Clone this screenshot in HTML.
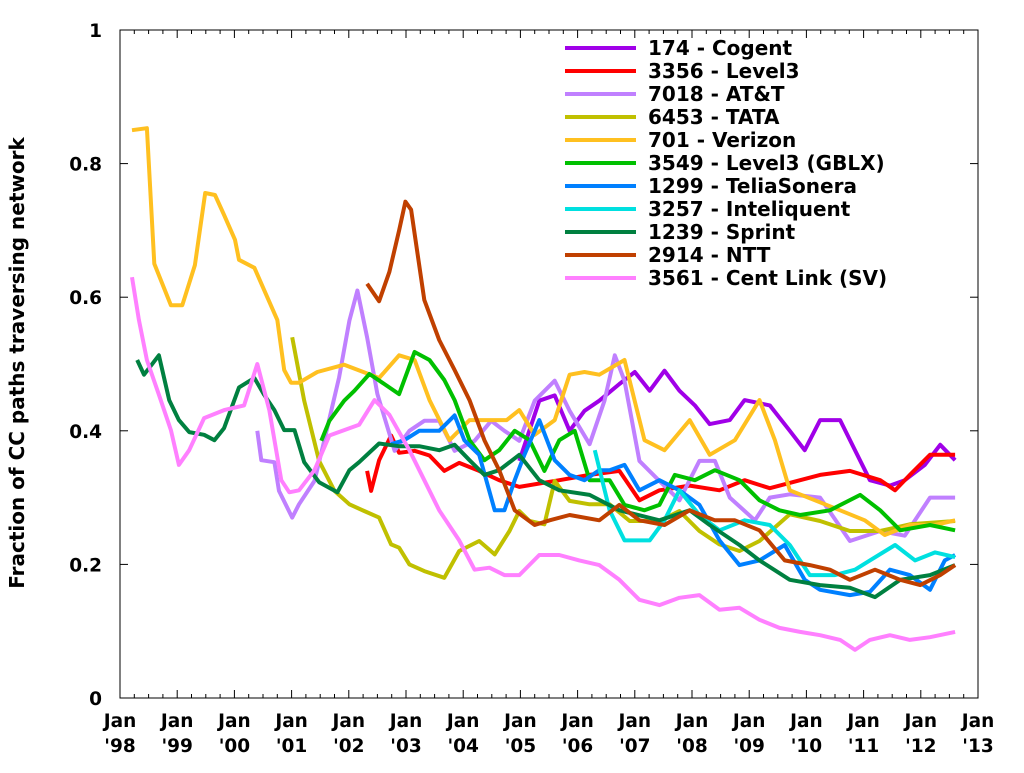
<!DOCTYPE html>
<html><head><meta charset="utf-8"><style>
body{margin:0;background:#fff;}
svg text{font-family:"DejaVu Sans","Liberation Sans",sans-serif;font-weight:bold;font-size:18.5px;fill:#000;}
svg text.lg{font-size:20px;}
</style></head><body>
<svg id="chart" width="1024" height="768" xmlns="http://www.w3.org/2000/svg">
<g id="grid"></g><g id="series"></g><g id="axes"></g><g id="legend"></g>
</svg>
<script>
// x values are years since Jan 1998; y values are fractions
const seriesNames = ["174 - Cogent","3356 - Level3","7018 - AT&T","6453 - TATA","701 - Verizon","3549 - Level3 (GBLX)","1299 - TeliaSonera","3257 - Inteliquent","1239 - Sprint","2914 - NTT","3561 - Cent Link (SV)"];
const seriesColors = ["#a000e8","#ff0000","#c080ff","#c0c000","#ffc020","#00c000","#0080ff","#00e0e0","#008040","#c04000","#ff80ff"];
const xTickLabels = ["'98","'99","'00","'01","'02","'03","'04","'05","'06","'07","'08","'09","'10","'11","'12","'13"];
const yTicks = [0,0.2,0.4,0.6,0.8,1];
const yTickLabels = ["0","0.2","0.4","0.6","0.8","1"];

const cogentX=[6.98,7.33,7.60,7.86,8.12,8.38,8.73,9.00,9.26,9.52,9.78,10.05,10.31,10.66,10.92,11.36,11.71,11.97,12.24,12.59,12.85,13.11,13.46,13.72,14.07,14.34,14.60];
const cogentY=[.355,.445,.453,.40,.43,.445,.47,.488,.46,.49,.46,.438,.41,.416,.446,.438,.40,.371,.416,.416,.371,.326,.318,.326,.349,.379,.356];
const level3X=[4.32,4.39,4.53,4.74,4.88,5.15,5.41,5.67,5.93,6.28,6.63,6.98,7.68,8.21,8.73,9.08,9.43,9.96,10.48,10.92,11.36,11.89,12.24,12.76,13.29,13.55,13.81,14.16,14.60];
const level3Y=[.34,.31,.356,.393,.367,.37,.363,.34,.352,.34,.326,.316,.326,.334,.34,.296,.311,.318,.311,.326,.314,.326,.334,.34,.326,.311,.334,.364,.364];
const attX=[2.40,2.47,2.70,2.78,3.01,3.13,3.40,3.57,3.83,4.01,4.15,4.32,4.50,4.80,5.06,5.32,5.58,5.85,6.20,6.49,6.72,6.98,7.25,7.60,7.86,8.21,8.47,8.65,8.82,9.08,9.43,9.78,10.13,10.40,10.66,11.10,11.36,11.71,12.24,12.76,13.29,13.72,14.16,14.60];
const attY=[.40,.356,.353,.31,.27,.29,.325,.385,.48,.565,.61,.54,.455,.37,.40,.415,.415,.37,.385,.415,.40,.385,.445,.475,.43,.38,.445,.513,.475,.355,.325,.296,.355,.355,.30,.266,.30,.305,.30,.235,.25,.243,.30,.30];
const tataX=[3.01,3.22,3.48,3.75,4.01,4.27,4.53,4.74,4.88,5.06,5.32,5.67,5.93,6.28,6.55,6.81,6.98,7.16,7.42,7.60,7.86,8.21,8.56,8.91,9.43,9.78,10.13,10.48,10.83,11.18,11.71,12.24,12.76,13.29,13.81,14.60];
const tataY=[.54,.445,.355,.31,.29,.28,.27,.23,.225,.2,.19,.18,.22,.235,.215,.25,.28,.265,.26,.325,.295,.29,.29,.265,.265,.28,.25,.23,.22,.235,.275,.265,.25,.25,.26,.265];
const verizonX=[0.21,0.47,0.60,0.89,1.09,1.31,1.49,1.66,1.82,2.01,2.08,2.35,2.52,2.75,2.87,2.99,3.13,3.45,3.92,4.53,4.88,5.15,5.41,5.76,6.11,6.46,6.76,6.98,7.25,7.60,7.86,8.12,8.38,8.82,9.17,9.52,9.96,10.31,10.75,11.18,11.45,11.71,12.15,12.59,13.02,13.37,13.81,14.25,14.60];
const verizonY=[.85,.853,.65,.588,.588,.648,.756,.753,.723,.686,.656,.644,.611,.566,.491,.472,.472,.488,.499,.479,.513,.506,.446,.386,.416,.416,.416,.431,.394,.416,.484,.488,.484,.506,.386,.371,.416,.364,.386,.446,.386,.311,.296,.281,.266,.244,.259,.259,.266];
const gblxX=[3.52,3.66,3.92,4.10,4.36,4.62,4.88,5.15,5.41,5.67,5.85,6.11,6.37,6.63,6.90,7.16,7.42,7.68,7.95,8.21,8.56,8.82,9.17,9.43,9.70,10.05,10.40,10.83,11.18,11.53,11.89,12.41,12.94,13.29,13.64,14.16,14.60];
const gblxY=[.385,.415,.445,.46,.485,.47,.455,.518,.506,.476,.446,.386,.356,.371,.40,.386,.34,.386,.40,.326,.326,.289,.281,.289,.334,.326,.341,.326,.296,.281,.274,.281,.304,.281,.251,.259,.251];
const teliaX=[4.74,4.97,5.23,5.58,5.85,6.02,6.28,6.55,6.72,6.90,7.07,7.33,7.60,7.86,8.12,8.38,8.56,8.82,9.08,9.43,9.78,10.13,10.48,10.83,11.18,11.62,11.97,12.24,12.76,13.11,13.46,13.81,14.16,14.42,14.60];
const teliaY=[.38,.386,.40,.40,.423,.386,.364,.281,.281,.326,.364,.416,.356,.334,.326,.341,.341,.349,.311,.326,.311,.289,.236,.199,.206,.229,.177,.162,.154,.159,.192,.184,.162,.206,.214];
const inteliX=[8.30,8.56,8.82,9.26,9.52,9.78,10.13,10.48,10.92,11.36,11.71,12.06,12.50,12.85,13.11,13.55,13.90,14.25,14.60];
const inteliY=[.371,.281,.236,.236,.266,.311,.274,.251,.266,.259,.229,.184,.184,.192,.206,.229,.206,.218,.211];
const sprintX=[0.30,0.42,0.68,0.86,1.03,1.21,1.47,1.65,1.82,2.08,2.35,2.52,2.70,2.87,3.05,3.22,3.48,3.80,4.01,4.18,4.53,4.88,5.23,5.58,5.85,6.11,6.37,6.63,6.98,7.33,7.68,8.21,8.73,9.43,9.96,10.31,10.83,11.18,11.71,12.24,12.76,13.20,13.64,14.16,14.60];
const sprintY=[.506,.484,.513,.446,.416,.398,.394,.386,.404,.465,.479,.454,.431,.401,.401,.353,.323,.308,.341,.353,.381,.377,.377,.371,.379,.356,.334,.341,.364,.326,.311,.304,.281,.266,.281,.259,.229,.206,.177,.169,.165,.151,.177,.184,.199];
const nttX=[4.32,4.53,4.71,4.88,4.99,5.09,5.32,5.58,5.85,6.11,6.37,6.63,6.90,7.25,7.51,7.86,8.38,8.73,9.08,9.52,9.96,10.40,10.75,11.18,11.62,12.06,12.41,12.76,13.20,13.64,13.99,14.34,14.60];
const nttY=[.62,.594,.638,.70,.743,.731,.596,.536,.491,.446,.386,.341,.281,.259,.266,.274,.266,.289,.266,.259,.281,.266,.266,.251,.206,.199,.192,.177,.192,.177,.169,.184,.199];
const centX=[0.21,0.33,0.47,0.68,0.89,1.03,1.21,1.47,1.82,2.17,2.40,2.61,2.82,2.96,3.13,3.40,3.66,3.92,4.18,4.45,4.71,5.06,5.32,5.58,5.93,6.20,6.46,6.72,6.98,7.33,7.68,8.03,8.38,8.73,9.08,9.43,9.78,10.13,10.48,10.83,11.18,11.53,11.89,12.24,12.59,12.85,13.11,13.46,13.81,14.16,14.60];
const centY=[.63,.566,.506,.454,.401,.349,.371,.419,.431,.438,.50,.431,.326,.308,.311,.341,.393,.401,.409,.446,.424,.371,.326,.281,.236,.192,.195,.184,.184,.214,.214,.206,.199,.177,.147,.139,.150,.154,.132,.135,.117,.105,.099,.094,.087,.072,.087,.094,.087,.091,.099];

const seriesX=[cogentX,level3X,attX,tataX,verizonX,gblxX,teliaX,inteliX,sprintX,nttX,centX];
const seriesY=[cogentY,level3Y,attY,tataY,verizonY,gblxY,teliaY,inteliY,sprintY,nttY,centY];

const L=120,R=978,T=30,B=698;
const sx=v=>L+(R-L)*v/15;
const sy=v=>B-(B-T)*v;
const NS="http://www.w3.org/2000/svg";
function mk(tag,attrs,parent){const e=document.createElementNS(NS,tag);for(const k in attrs)e.setAttribute(k,attrs[k]);parent.appendChild(e);return e;}
const axes=document.getElementById('axes'),ser=document.getElementById('series'),leg=document.getElementById('legend');

const frame=mk('rect',{x:L,y:T,width:R-L,height:B-T,fill:'none',stroke:'#000','stroke-width':1},axes);



for(let q=0;q<=60;q++){
  const x=sx(q/4), len=(q%4===0)?8:4;
  mk('line',{x1:x,y1:B,x2:x,y2:B-len,stroke:'#000'},axes);
  mk('line',{x1:x,y1:T,x2:x,y2:T+len,stroke:'#000'},axes);
}
xTickLabels.forEach((lab,i)=>{
  const x=sx(i);
  const t=mk('text',{x:x,y:727,'text-anchor':'middle'},axes);t.textContent='Jan';
  
  
  const t2=mk('text',{x:x,y:752,'text-anchor':'middle'},axes);t2.textContent=lab;
  
  
});
yTicks.forEach((v,i)=>{
  const y=sy(v);
  mk('line',{x1:L,y1:y,x2:L+8,y2:y,stroke:'#000'},axes);
  mk('line',{x1:R,y1:y,x2:R-8,y2:y,stroke:'#000'},axes);
  const t=mk('text',{x:102,y:y+7,'text-anchor':'end'},axes);t.textContent=yTickLabels[i];
  
  
});
const yt=mk('text',{x:0,y:0,'text-anchor':'middle','class':'lg',transform:'translate(24,363) rotate(-90)'},axes);
yt.textContent='Fraction of CC paths traversing network';



seriesNames.forEach((name,i)=>{
  const d=seriesX[i].map((x,j)=>(j?'L':'M')+sx(x).toFixed(1)+' '+sy(seriesY[i][j]).toFixed(1)).join(' ');
  const p=mk('path',{d:d,fill:'none',stroke:seriesColors[i],'stroke-width':4,'stroke-linejoin':'round'},ser);
  
  
  const ly=48+i*23;
  const ll=mk('line',{x1:565,y1:ly,x2:636,y2:ly,stroke:seriesColors[i],'stroke-width':4},leg);
  
  
  const lt=mk('text',{x:648,y:ly+7,'class':'lg'},leg);lt.textContent=name;
  
  
});
</script>
</body></html>
